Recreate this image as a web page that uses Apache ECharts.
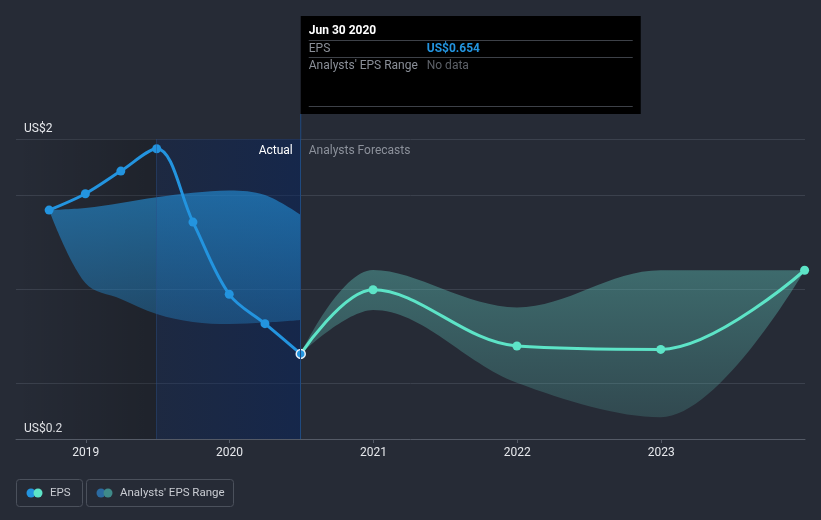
<!DOCTYPE html>
<html><head><meta charset="utf-8">
<script src="https://cdn.jsdelivr.net/npm/echarts@6/dist/echarts.min.js"></script>
<style>html,body{margin:0;padding:0;background:#262b36;}#c{width:821px;height:520px;}</style>
</head><body><div id="c"></div>
<script>
// ---- data ----
const actualDates = ['2018-09-30','2018-12-31','2019-03-31','2019-06-30','2019-09-30','2019-12-31','2020-03-31','2020-06-30'];
const actualEps = [1.421,1.508,1.629,1.748,1.357,0.972,0.815,0.654];
const pastRangeHigh = [1.421,1.432,1.459,1.489,1.514,1.526,1.501,1.395];
const pastRangeLow = [1.421,1.032,0.947,0.867,0.824,0.813,0.821,0.835];
const forecastDates = ['2020-06-30','2020-12-31','2021-12-31','2022-12-31','2023-12-31'];
const forecastEps = [0.654,0.996,0.696,0.678,1.100];
const forecastHigh = [0.654,1.101,0.902,1.100,1.100];
const forecastLow = [0.654,0.888,0.500,0.316,1.100];
const yearTicks = [2019,2020,2021,2022,2023];
const yLabelValues = [0.2,1.8];
const yGridValues = [0.5,1.0,1.5,1.8];
const xStart = '2018-07-08';
const xEnd = '2023-12-31';
const lastYearStart = '2019-06-30';
const nowDate = '2020-06-30';

function toYear(s){
  const d = new Date(s+'T00:00:00Z');
  const y = d.getUTCFullYear();
  const start = Date.UTC(y,0,1), end = Date.UTC(y+1,0,1);
  return y + (d.getTime()-start)/(end-start);
}
const ax = actualDates.map(toYear);
const fx = forecastDates.map(toYear);
const xMin = toYear(xStart), xMax = toYear(xEnd)+1/365;
const nowX = toYear(nowDate), lyX = toYear(lastYearStart);

const chart = echarts.init(document.getElementById('c'), null, {renderer:'canvas'});
const FONT = 'Roboto, "Noto Sans", sans-serif';
const SM = 0.35;
// band series: data rows are [value, year] so the stacked dimension is the value
function bandPair(stackName, xs, low, high, fill){
  return [
    {type:'line',stack:stackName,z:2,silent:true,encode:{x:1,y:0},
      data:xs.map((x,i)=>[low[i],x]),symbol:'none',smooth:SM,lineStyle:{opacity:0}},
    {type:'line',stack:stackName,z:2,silent:true,encode:{x:1,y:0},
      data:xs.map((x,i)=>[high[i]-low[i],x]),symbol:'none',smooth:SM,lineStyle:{opacity:0},
      areaStyle:{opacity:1,color:fill}}
  ];
}

const option = {
  animation:false,
  backgroundColor:'#262b36',
  grid:{left:16,right:16,top:139,bottom:81,containLabel:false},
  xAxis:{type:'value',min:xMin,max:xMax,
    axisLine:{show:true,lineStyle:{color:'#545a66',width:1}},
    axisTick:{show:true,length:4,customValues:yearTicks,lineStyle:{color:'#545a66'}},
    splitLine:{show:false},
    axisLabel:{customValues:yearTicks,color:'#e6e8ec',fontSize:12,fontFamily:FONT,margin:8,formatter:v=>String(Math.round(v))}
  },
  yAxis:{type:'value',min:0.2,max:1.8,
    axisLine:{show:false},
    axisTick:{show:false,customValues:yGridValues},
    splitLine:{show:true,lineStyle:{color:'#3b414d',width:1}},
    axisLabel:{customValues:yLabelValues,inside:true,margin:8,color:'#e6e8ec',fontSize:12,fontFamily:FONT,
      verticalAlign:'bottom',padding:[0,0,4,0],
      formatter:v=>'US$'+Number(v.toPrecision(1))}
  },
  series:[
    {type:'line',name:'bg',data:[],z:1,silent:true,
      markArea:{silent:true,data:[
        [{xAxis:xMin,yAxis:1.8,itemStyle:{color:{type:'linear',x:0,y:0,x2:1,y2:0,colorStops:[{offset:0,color:'rgba(0,0,0,0)'},{offset:1,color:'rgba(0,0,0,0.2)'}]}}},{xAxis:lyX,yAxis:0.2}],
        [{xAxis:lyX,yAxis:1.8,itemStyle:{color:{type:'linear',x:0,y:0,x2:1,y2:0,colorStops:[{offset:0,color:'rgba(5,35,95,0.27)'},{offset:1,color:'rgba(5,35,95,0.5)'}]}}},{xAxis:nowX,yAxis:0.2}]
      ]},
      markLine:{silent:true,symbol:'none',label:{show:false},data:[
        {xAxis:lyX,lineStyle:{color:'rgba(40,80,140,0.45)',width:1,type:'solid'}},
        {xAxis:nowX,lineStyle:{color:'#1f4a80',width:1,type:'solid'}}
      ]}
    },
    ...bandPair('past', ax, pastRangeLow, pastRangeHigh,
      {type:'linear',x:0,y:0,x2:0,y2:1,colorStops:[{offset:0,color:'rgba(35,148,223,0.6)'},{offset:1,color:'rgba(35,148,223,0.33)'}]}),
    ...bandPair('fc', fx, forecastLow, forecastHigh,
      {type:'linear',x:0,y:0,x2:0,y2:1,colorStops:[{offset:0,color:'rgba(94,194,184,0.42)'},{offset:1,color:'rgba(94,194,184,0.2)'}]}),
    {type:'line',name:'EPS forecast',z:3,data:fx.map((x,i)=>i===0?{value:[x,forecastEps[i]],symbol:'none'}:[x,forecastEps[i]]),
      symbol:'circle',symbolSize:9,showSymbol:true,smooth:SM,
      lineStyle:{color:'#5de4c7',width:3},itemStyle:{color:'#5de4c7'}},
    {type:'line',name:'EPS',z:4,data:ax.map((x,i)=>i===ax.length-1?{value:[x,actualEps[i]],itemStyle:{color:'#2394df',borderColor:'#e8eef5',borderWidth:1.5}}:[x,actualEps[i]]),
      symbol:'circle',symbolSize:9,showSymbol:true,smooth:SM,
      lineStyle:{color:'#2394df',width:3},itemStyle:{color:'#2394df'}}
  ]
};
chart.setOption(option);

const px = chart.convertToPixel({xAxisIndex:0}, nowX);
const topY = chart.convertToPixel({yAxisIndex:0}, 1.8);
const ttL = px, ttR = px+340, ttT = 16, ttB = 114;
const legendItems = [
  {label:'EPS', c1:'#2394df', c2:'#5de4c7', x:16, w:66},
  {label:"Analysts' EPS Range", c1:'#2b6aa0', c2:'#3f8a89', x:86, w:147}
];
const g = [];
g.push({type:'line',shape:{x1:px,y1:ttB,x2:px,y2:topY},style:{stroke:'#1f4a80',lineWidth:1},z:5});
g.push({type:'rect',shape:{x:ttL,y:ttT,width:ttR-ttL,height:ttB-ttT},style:{fill:'#000'},z:10});
g.push({type:'text',x:ttL+8,y:31,style:{text:'Jun 30 2020',fill:'#fff',font:'bold 12px '+FONT,verticalAlign:'middle'},z:11});
[40.5,57.5,106.5].forEach(yy=>g.push({type:'line',shape:{x1:ttL+8,y1:yy,x2:ttR-8,y2:yy},style:{stroke:'#3d4148',lineWidth:1},z:11}));
g.push({type:'text',x:ttL+8,y:48.5,style:{text:'EPS',fill:'#8a8f98',font:'12px '+FONT,verticalAlign:'middle'},z:11});
g.push({type:'text',x:ttL+126,y:48.5,style:{text:'US$0.654',fill:'#2394df',font:'bold 12px '+FONT,verticalAlign:'middle'},z:11});
g.push({type:'text',x:ttL+8,y:65.5,style:{text:"Analysts' EPS Range",fill:'#8a8f98',font:'12px '+FONT,verticalAlign:'middle'},z:11});
g.push({type:'text',x:ttL+126,y:65.5,style:{text:'No data',fill:'#5d6168',font:'12px '+FONT,verticalAlign:'middle'},z:11});
g.push({type:'text',x:px-8,y:151,style:{text:'Actual',fill:'#ffffff',font:'12px '+FONT,align:'right',verticalAlign:'middle'},z:6});
g.push({type:'text',x:px+8,y:151,style:{text:'Analysts Forecasts',fill:'#8c919b',font:'12px '+FONT,align:'left',verticalAlign:'middle'},z:6});
legendItems.forEach(it=>{
  g.push({type:'rect',shape:{x:it.x+0.5,y:479.5,width:it.w,height:27,r:3},style:{fill:'none',stroke:'#4b515c',lineWidth:1},z:6});
  g.push({type:'circle',shape:{cx:it.x+15,cy:493,r:4.5},style:{fill:it.c1},z:6});
  g.push({type:'circle',shape:{cx:it.x+22,cy:493,r:4.5},style:{fill:it.c2},z:7});
  g.push({type:'text',x:it.x+34,y:493,style:{text:it.label,fill:'#c9ccd2',font:'11.5px '+FONT,verticalAlign:'middle'},z:6});
});
chart.setOption({graphic:g});
</script></body></html>
